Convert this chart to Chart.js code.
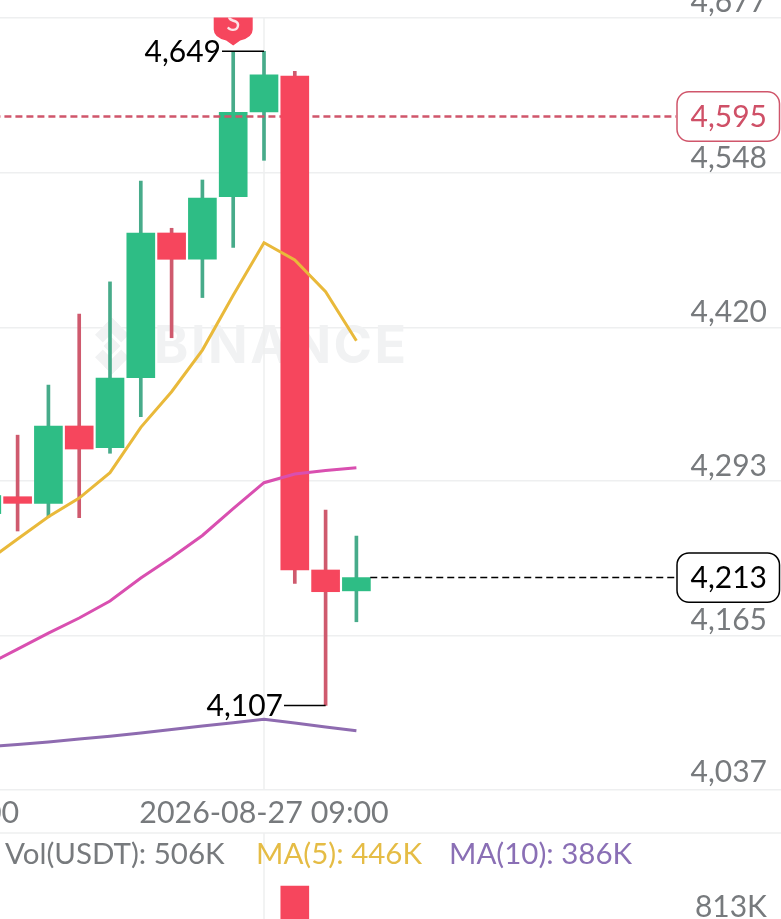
<!DOCTYPE html>
<html>
<head>
<meta charset="utf-8">
<title>Candles</title>
<script src="https://cdn.jsdelivr.net/npm/chart.js@4"></script>
<style>
  html, body { margin: 0; padding: 0; width: 781px; height: 919px; overflow: hidden; background: #fff; }
  /* canvas is bigger than the window: the chart is cropped on the left, top and bottom like the phone screenshot */
  #kline { position: absolute; left: -240px; top: -40px; }
</style>
</head>
<body>
<canvas id="kline" width="1021" height="1080"></canvas>
<script>
const candleIndex = [0, 1, 2, 3, 4, 5, 6, 7, 8, 9, 10, 11, 12];
const opens  = [4266, 4280, 4274.5, 4338.6, 4320.6, 4378.6, 4498.5, 4476.7, 4528.5, 4598.7, 4628.5, 4219.3, 4202];
const closes = [4281, 4274.5, 4338.6, 4319.5, 4378.3, 4498.5, 4476.7, 4527.5, 4598.5, 4629.6, 4219.3, 4201.3, 4213];
const highs  = [4300, 4331, 4372.5, 4431.4, 4458, 4541.6, 4502.4, 4542.4, 4648.8, 4649, 4632.4, 4269, 4247.4];
const lows   = [4255, 4251.6, 4263, 4262.6, 4316, 4346.3, 4411.7, 4445, 4486.6, 4558.7, 4208.2, 4107, 4176.4];
const volumes = [280, 310, 290, 320, 300, 420, 240, 350, 180, 160, 1084, 300, 506];

const maYellow = [4226.3, 4245, 4263.4, 4278.9, 4299.9, 4337.5, 4367, 4401.5, 4447, 4490.4, 4476.1, 4449.8, 4409.2];
const maPink   = [4140.6, 4153.8, 4167, 4179.5, 4193.6, 4212.6, 4229.6, 4247.9, 4270.2, 4291.6, 4298.8, 4301.7, 4304];
const maPurple = [4072.9, 4074.7, 4076.8, 4079.3, 4081.5, 4084.2, 4087.1, 4090, 4092.8, 4095.6, 4092.5, 4089.3, 4086.1];

const priceTicks = [4037, 4165, 4293, 4420, 4548, 4677];
const volumeTicks = [813];
const timeTicks = [-3, 9];
const timeLabels = ['2026-08-26 21:00', '2026-08-27 09:00'];

const lastPrice = 4213;
const markPrice = 4595;
const highLabel = 4649;
const lowLabel = 4107;

const UP = '#2EBD85', DOWN = '#F6465D';
const UP_WICK = '#47AB8A', DOWN_WICK = '#CF5A6E';
const GRID = '#EEEFF0', GREY = '#777A7D';
const FONT = 'Lato, sans-serif';

const isUp = i => closes[i] >= opens[i];
const upIdx = candleIndex.filter(isUp);
const downIdx = candleIndex.filter(i => !isUp(i));
const fmt = v => v.toLocaleString('en-US');

function wicks(list) { return list.map(i => ({ x: i, y: [lows[i], highs[i]] })); }
function bodies(list) { return list.map(i => ({ x: i, y: [opens[i], closes[i]] })); }
function maLine(values) { return candleIndex.map(i => ({ x: i, y: values[i] })); }

function barSet(data, color, thick, order) {
  return { type: 'bar', data, backgroundColor: color, barThickness: thick, grouped: false,
           borderWidth: 0, borderSkipped: false, order, yAxisID: 'y' };
}
function lineSet(data, color, width, order, dash) {
  return { type: 'line', data, borderColor: color, borderWidth: width, pointRadius: 0,
           tension: 0, borderDash: dash || [], order, yAxisID: 'y' };
}
// tick labels must not shrink the chart area, it has to fill the whole canvas
function noPadding(s) {
  s.paddingTop = 0; s.paddingBottom = 0; s.paddingLeft = 0; s.paddingRight = 0;
}

// everything that is not a real series: watermark, leaders, price boxes, text rows
const overlay = {
  id: 'overlay',
  beforeDatasetsDraw(chart) {
    const { ctx, scales } = chart;
    ctx.save();
    ctx.translate(240, 40);

    // watermark
    ctx.fillStyle = '#F1F2F3';
    ctx.font = 'bold 52px Inter, sans-serif';
    ctx.textAlign = 'left';
    ctx.textBaseline = 'middle';
    ctx.letterSpacing = '2.5px';
    ctx.fillText('BINANCE', 154, 347);
    ctx.letterSpacing = '0px';
    ctx.save();
    ctx.translate(112, 346);
    ctx.rotate(Math.PI / 4);
    [[-6, -6, 12, 12], [-20, -20, 11, 24], [-20, -20, 24, 11], [9, -4, 11, 24], [-4, 9, 24, 11]]
      .forEach(r => ctx.fillRect(r[0], r[1], r[2], r[3]));
    ctx.restore();

    // pane separator and the vertical line of the time tick
    ctx.strokeStyle = GRID;
    ctx.lineWidth = 1.5;
    ctx.beginPath();
    ctx.moveTo(0, 833);
    ctx.lineTo(781, 833);
    const xt = scales.x.getPixelForValue(timeTicks[1]) - 240;
    ctx.moveTo(xt, 17.5);
    ctx.lineTo(xt, 790);
    ctx.moveTo(xt, 833);
    ctx.lineTo(xt, 919);
    ctx.stroke();
    ctx.restore();
  },
  afterDatasetsDraw(chart) {
    const { ctx, scales } = chart;
    const px = v => scales.x.getPixelForValue(v) - 240;
    const py = v => scales.y.getPixelForValue(v) - 40;
    ctx.save();
    ctx.translate(240, 40);

    // sell badge, cut by the top of the pane
    ctx.save();
    ctx.beginPath();
    ctx.rect(0, 17.5, 781, 900);
    ctx.clip();
    const bx = px(8), tip = py(highs[8]) - 6;
    ctx.fillStyle = DOWN;
    ctx.beginPath();
    ctx.moveTo(bx, tip);
    ctx.lineTo(bx - 7, tip - 5);
    ctx.quadraticCurveTo(bx - 19.5, tip - 8, bx - 19.5, tip - 16);
    ctx.lineTo(bx - 19.5, tip - 40);
    ctx.lineTo(bx + 19.5, tip - 40);
    ctx.lineTo(bx + 19.5, tip - 16);
    ctx.quadraticCurveTo(bx + 19.5, tip - 8, bx + 7, tip - 5);
    ctx.closePath();
    ctx.fill();
    ctx.fillStyle = '#FDE3E6';
    ctx.font = '26px ' + FONT;
    ctx.textAlign = 'center';
    ctx.textBaseline = 'middle';
    ctx.fillText('S', bx, tip - 23);
    ctx.restore();

    // high and low leaders
    ctx.strokeStyle = '#000';
    ctx.lineWidth = 1.5;
    ctx.beginPath();
    const hy = py(highLabel), ly = py(lowLabel);
    ctx.moveTo(222, hy);
    ctx.lineTo(px(9), hy);
    ctx.moveTo(284, ly);
    ctx.lineTo(px(11), ly);
    ctx.stroke();
    ctx.fillStyle = '#000';
    ctx.font = '30px ' + FONT;
    ctx.textAlign = 'right';
    ctx.textBaseline = 'middle';
    ctx.fillText(fmt(highLabel), 221, hy + 1);
    ctx.fillText(fmt(lowLabel), 283, ly + 1);

    // the lowest price label sits a little higher than the other ticks
    ctx.fillStyle = GREY;
    ctx.fillText(fmt(priceTicks[0]), 767, py(priceTicks[0]) - 18);

    // price boxes on the right
    [[markPrice, '#D0566B', '#CF5067'], [lastPrice, '#000', '#000']].forEach(b => {
      const cy = py(b[0]);
      ctx.fillStyle = '#fff';
      ctx.strokeStyle = b[1];
      ctx.lineWidth = 1.5;
      ctx.beginPath();
      ctx.roundRect(677, cy - 24.7, 102.5, 49.4, 12);
      ctx.fill();
      ctx.stroke();
      ctx.fillStyle = b[2];
      ctx.fillText(fmt(b[0]), 767, cy + 1);
    });

    // volume legend row
    ctx.font = '29.5px ' + FONT;
    ctx.textAlign = 'left';
    [['Vol(USDT): 506K', 5, GREY], ['MA(5): 446K', 256, '#E5BC45'], ['MA(10): 386K', 449, '#8A6FB5']].forEach(t => {
      ctx.fillStyle = t[2];
      ctx.fillText(t[0], t[1], 854);
    });
    ctx.restore();
  }
};

new Chart(document.getElementById('kline').getContext('2d'), {
  data: {
    datasets: [
      barSet(wicks(upIdx), UP_WICK, 3, 9),
      barSet(wicks(downIdx), DOWN_WICK, 3, 8),
      barSet(bodies(upIdx), UP, 28, 7),
      lineSet([{ x: -8, y: markPrice }, { x: 22.38, y: markPrice }], '#D0566B', 2.5, 6, [7, 4]),
      barSet(bodies(downIdx), DOWN, 28, 5),
      Object.assign(barSet(candleIndex.map(i => ({ x: i, y: volumes[i] })),
        candleIndex.map(i => isUp(i) ? UP : DOWN), 28, 5), { yAxisID: 'yVol' }),
      lineSet(maLine(maPurple), '#8E6BB0', 3, 4),
      lineSet(maLine(maPink), '#D94FB0', 3, 3),
      lineSet(maLine(maYellow), '#E9B93A', 3, 2),
      lineSet([{ x: 12.45, y: lastPrice }, { x: 22.38, y: lastPrice }], '#000', 1.5, 1, [7, 4])
    ]
  },
  options: {
    responsive: false,
    animation: false,
    devicePixelRatio: 1,
    layout: { padding: 0 },
    plugins: { legend: { display: false }, tooltip: { enabled: false } },
    scales: {
      x: {
        type: 'linear',
        min: -7.364,
        max: 25.786,
        offset: false,
        position: { y: 4037 },
        grid: { display: false, offset: false, drawTicks: false },
        border: { display: false },
        afterBuildTicks: s => { s.ticks = timeTicks.map(v => ({ value: v })); },
        afterFit: noPadding,
        ticks: {
          autoSkip: false,
          maxRotation: 0,
          padding: 5,
          color: GREY,
          font: { family: FONT, size: 30.4 },
          callback: v => timeLabels[timeTicks.indexOf(v)]
        }
      },
      y: {
        type: 'linear',
        min: 3829.9,
        max: 4724.66,
        position: { x: 25.33 },
        grid: { color: GRID, lineWidth: 1.5, drawTicks: false },
        border: { display: false },
        afterBuildTicks: s => { s.ticks = priceTicks.map(v => ({ value: v })); },
        afterFit: noPadding,
        ticks: {
          padding: 0,
          labelOffset: -15,
          color: GREY,
          font: { family: FONT, size: 30 },
          callback: v => v === priceTicks[0] ? '' : fmt(v)
        }
      },
      yVol: {
        type: 'linear',
        min: -75.3,
        max: 8056.7,
        position: { x: 25.33 },
        grid: { display: false, drawTicks: false },
        border: { display: false },
        afterBuildTicks: s => { s.ticks = volumeTicks.map(v => ({ value: v })); },
        afterFit: noPadding,
        ticks: {
          padding: 0,
          labelOffset: -15,
          color: GREY,
          font: { family: FONT, size: 30 },
          callback: v => v + 'K'
        }
      }
    }
  },
  plugins: [overlay]
});
</script>
</body>
</html>
